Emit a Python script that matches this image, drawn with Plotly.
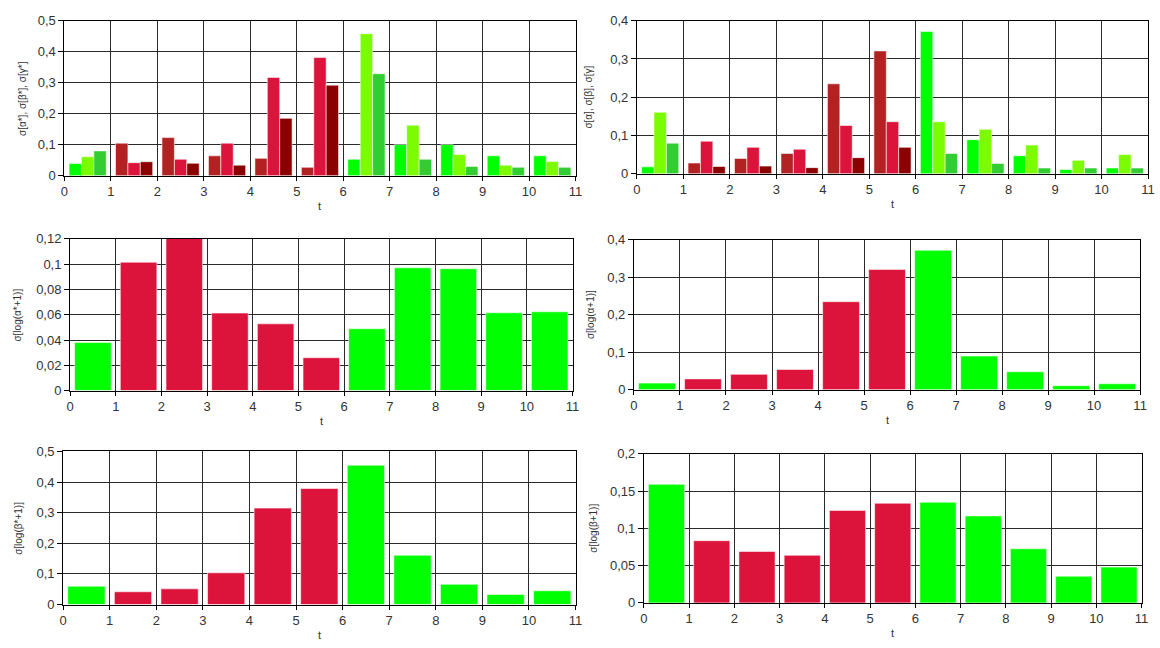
import plotly.graph_objects as go

W, H = 1160, 648

# time steps: bars sit in the middle of each unit interval [t, t+1]
t_mid = [i + 0.5 for i in range(11)]
red_step = [False, True, True, True, True, True, False, False, False, False, False]

# standard deviations of the starred coefficients
sig_alpha_star = [0.039, 0.105, 0.123, 0.064, 0.056, 0.027, 0.053, 0.100, 0.100, 0.064, 0.064]
sig_beta_star = [0.061, 0.042, 0.053, 0.105, 0.317, 0.381, 0.458, 0.163, 0.068, 0.034, 0.046]
sig_gamma_star = [0.080, 0.045, 0.040, 0.034, 0.185, 0.292, 0.329, 0.053, 0.030, 0.027, 0.027]

# standard deviations of the plain coefficients
sig_alpha = [0.018, 0.028, 0.040, 0.053, 0.235, 0.321, 0.372, 0.089, 0.047, 0.011, 0.015]
sig_beta = [0.161, 0.085, 0.069, 0.064, 0.126, 0.136, 0.136, 0.116, 0.075, 0.035, 0.050]
sig_gamma = [0.080, 0.019, 0.020, 0.016, 0.042, 0.069, 0.053, 0.027, 0.015, 0.015, 0.015]

# standard deviations of log(x+1)
sig_log_alpha_star = [0.038, 0.1015, 0.122, 0.0613, 0.0528, 0.026, 0.0489, 0.0971, 0.0963, 0.0615, 0.0623]
sig_log_alpha = [0.0174, 0.0287, 0.0409, 0.0539, 0.2348, 0.3209, 0.372, 0.0896, 0.0478, 0.0104, 0.0157]
sig_log_beta_star = [0.0598, 0.0417, 0.0513, 0.1036, 0.315, 0.379, 0.455, 0.161, 0.066, 0.033, 0.045]
sig_log_beta = [0.159, 0.0834, 0.069, 0.0638, 0.124, 0.1336, 0.135, 0.1166, 0.0725, 0.0358, 0.048]

GREEN_SHADES = ["#00FF00", "#7CFC00", "#32CD32"]
RED_SHADES = ["#B22222", "#DC143C", "#8B0000"]
EDGE = dict(color="rgba(255,255,255,0.55)", width=1)

FONT = "Liberation Sans, Arial, sans-serif"
TICK_COLOR = "#333333"
GRID = "#2a2a2a"

# panel boxes in pixels: (left, right, top, bottom)
panels = [
    dict(box=(61, 577, 14, 172.7), ymax=0.5, dtick=0.1, title="σ[α*], σ[β*], σ[γ*]", tx=18),
    dict(box=(639, 1155, 14, 170.7), ymax=0.4, dtick=0.1, title="σ[α], σ[β], σ[γ]", tx=590),
    dict(box=(66.7, 574, 237.3, 392.7), ymax=0.12, dtick=0.02, title="σ[log(α*+1)]", tx=14),
    dict(box=(636, 1147, 238.3, 391.7), ymax=0.4, dtick=0.1, title="σ[log(α+1)]", tx=592),
    dict(box=(59.7, 577, 455, 611.7), ymax=0.5, dtick=0.1, title="σ[log(β*+1)]", tx=14),
    dict(box=(646, 1148.5, 457.3, 610), ymax=0.2, dtick=0.05, title="σ[log(β+1)]", tx=595),
]

fig = go.Figure()


def shade_list(k):
    return [RED_SHADES[k] if r else GREEN_SHADES[k] for r in red_step]


def single_colors():
    return ["#DC143C" if r else "#00FF00" for r in red_step]


grouped = {
    0: [sig_alpha_star, sig_beta_star, sig_gamma_star],
    1: [sig_alpha, sig_beta, sig_gamma],
}
single = {
    2: sig_log_alpha_star,
    3: sig_log_alpha,
    4: sig_log_beta_star,
    5: sig_log_beta,
}

for idx in range(6):
    xa = "x" if idx == 0 else f"x{idx + 1}"
    ya = "y" if idx == 0 else f"y{idx + 1}"
    if idx in grouped:
        for k, series in enumerate(grouped[idx]):
            fig.add_trace(go.Bar(x=t_mid, y=series, xaxis=xa, yaxis=ya,
                                 marker=dict(color=shade_list(k), line=EDGE),
                                 showlegend=False, hoverinfo="x+y"))
    else:
        fig.add_trace(go.Bar(x=t_mid, y=single[idx], xaxis=xa, yaxis=ya,
                             marker=dict(color=single_colors(), line=EDGE),
                             showlegend=False, hoverinfo="x+y"))

layout = dict(
    width=W, height=H,
    margin=dict(l=0, r=0, t=0, b=0),
    paper_bgcolor="white", plot_bgcolor="white",
    barmode="group", bargap=0.2, bargroupgap=0.0,
    separators=", ",
    font=dict(family=FONT, color=TICK_COLOR, size=13),
    annotations=[],
)

for idx, p in enumerate(panels):
    l, r, t, b = p["box"]
    suffix = "" if idx == 0 else str(idx + 1)
    xa_name = "xaxis" + suffix
    ya_name = "yaxis" + suffix
    ya_ref = "y" + suffix
    xa_ref = "x" + suffix
    layout[xa_name] = dict(
        domain=[l / W, r / W], anchor=ya_ref,
        range=[0, 11], dtick=1, tick0=0,
        showgrid=True, gridcolor=GRID, gridwidth=1,
        showline=True, linecolor="black", linewidth=1, mirror=True,
        ticks="outside", ticklen=4, tickcolor="black",
        tickfont=dict(size=13, color=TICK_COLOR),
        zeroline=False, fixedrange=True,
    )
    layout[ya_name] = dict(
        domain=[1 - b / H, 1 - t / H], anchor=xa_ref,
        range=[0, p["ymax"]], dtick=p["dtick"], tick0=0,
        showgrid=True, gridcolor=GRID, gridwidth=1,
        showline=True, linecolor="black", linewidth=1, mirror=True,
        ticks="outside", ticklen=5, tickcolor="black",
        tickfont=dict(size=13, color=TICK_COLOR),
        zeroline=False, fixedrange=True,
    )
    # axis titles
    layout["annotations"].append(dict(
        text="t", xref="paper", yref="paper",
        x=(l + r) / 2 / W, y=1 - (b + 31) / H,
        showarrow=False, font=dict(size=11, color=TICK_COLOR),
        xanchor="center", yanchor="middle",
    ))
    layout["annotations"].append(dict(
        text=p["title"], xref="paper", yref="paper",
        x=p["tx"] / W, y=1 - ((t + b) / 2) / H,
        showarrow=False, textangle=-90, font=dict(size=10, color=TICK_COLOR),
        xanchor="center", yanchor="middle",
    ))

fig.update_layout(**layout)
fig.write_html("out.html")
